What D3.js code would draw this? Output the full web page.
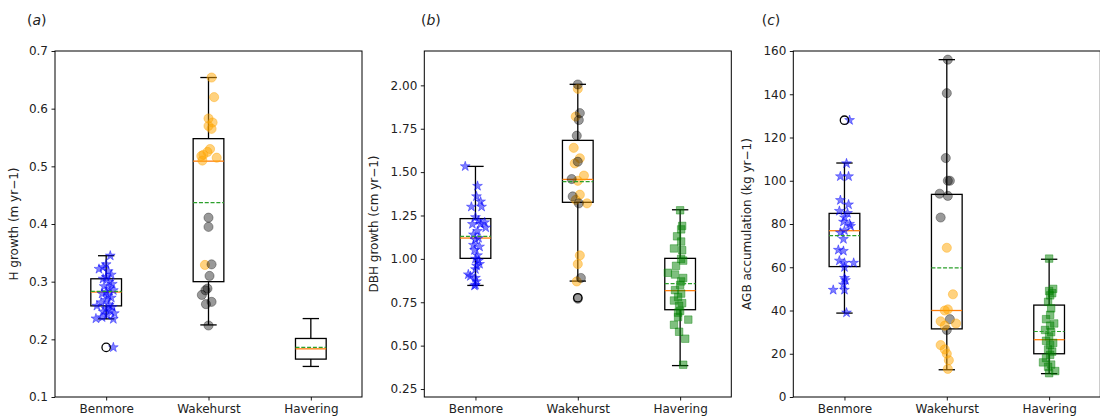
<!DOCTYPE html>
<html>
<head>
<meta charset="utf-8">
<script src="https://cdn.jsdelivr.net/npm/d3@7"></script>
<style>
body { margin: 0; background: #fff; }
svg text { font-family: "DejaVu Sans", sans-serif; fill: #222; }
</style>
</head>
<body>
<svg id="fig" width="1100" height="419"></svg>
<script>
const sites = ['Benmore', 'Wakehurst', 'Havering'];

// box stats per site: [whisker low, q1, median, q3, whisker high]
const boxA = [[0.2355, 0.258, 0.282, 0.305, 0.345], [0.225, 0.300, 0.509, 0.548, 0.654], [0.153, 0.1657, 0.1835, 0.2015, 0.236]];
const meanA = [0.283, 0.437, 0.186];
const flierA = [[0.186], [], []];

const boxB = [[0.847, 1.003, 1.12, 1.232, 1.533], [0.872, 1.326, 1.458, 1.683, 2.006], [0.385, 0.707, 0.817, 1.003, 1.283]];
const meanB = [1.13, 1.445, 0.857];
const flierB = [[], [0.776], []];

const boxC = [[38.8, 60.3, 76.9, 84.9, 108.2], [12.6, 31.5, 40, 93.7, 156], [10.8, 20, 26.5, 42.5, 63.7]];
const meanC = [74.6, 59.7, 30.3];
const flierC = [[128], [], []];

// individual trees: [value, jitter offset in category units]
const benmoreA = [[0.345,0.04],[0.33,0.0],[0.325,-0.03],[0.322,-0.07],[0.318,0.02],[0.312,0.05],[0.308,0.0],[0.305,-0.03],[0.30,0.03],[0.296,0.06],[0.292,-0.02],[0.288,0.03],[0.285,0.07],[0.282,0.0],[0.279,-0.04],[0.276,0.02],[0.272,0.05],[0.268,0.0],[0.264,-0.05],[0.26,0.03],[0.258,-0.09],[0.256,0.06],[0.253,0.0],[0.25,0.04],[0.248,-0.03],[0.245,0.08],[0.242,0.01],[0.238,-0.04],[0.236,-0.1],[0.235,0.07],[0.186,0.07]];
const wakeOrangeA = [[0.654,0.03],[0.62,0.055],[0.583,0.0],[0.576,0.04],[0.57,0.0],[0.565,0.03],[0.53,0.015],[0.525,-0.01],[0.52,-0.05],[0.518,-0.07],[0.515,0.08],[0.51,-0.06],[0.329,-0.035]];
const wakeGrayA = [[0.411,0.0],[0.395,0.0],[0.33,0.03],[0.31,0.01],[0.288,-0.01],[0.285,-0.03],[0.277,-0.065],[0.265,0.03],[0.261,-0.025],[0.224,0.0]];

const benmoreB = [[1.533,-0.10],[1.42,0.02],[1.36,0.01],[1.33,0.05],[1.30,-0.04],[1.30,0.06],[1.24,0.0],[1.22,0.03],[1.21,0.09],[1.20,-0.03],[1.20,0.05],[1.18,0.10],[1.16,0.02],[1.14,-0.02],[1.12,0.03],[1.11,0.0],[1.08,-0.02],[1.07,0.04],[1.05,-0.01],[1.02,0.02],[1.00,0.0],[0.99,0.03],[0.97,0.04],[0.96,0.01],[0.94,0.0],[0.91,-0.07],[0.90,-0.05],[0.89,0.0],[0.87,0.01],[0.85,0.0],[0.845,-0.01]];
const wakeOrangeB = [[1.98,0.0],[1.82,-0.02],[1.64,-0.04],[1.58,0.02],[1.55,-0.03],[1.48,0.06],[1.45,0.0],[1.37,0.02],[1.34,-0.02],[1.32,0.09],[1.02,0.02],[0.97,0.0],[0.87,-0.01]];
const wakeGrayB = [[2.005,0.0],[1.84,0.02],[1.80,0.01],[1.71,-0.01],[1.56,0.0],[1.46,-0.06],[1.36,-0.05],[1.32,0.01],[0.89,0.03],[0.77,0.0]];
const haveringB = [[1.28,0.0],[1.19,0.02],[1.17,0.01],[1.13,-0.03],[1.10,0.01],[1.06,-0.06],[1.05,0.02],[1.00,0.01],[0.99,0.03],[0.96,-0.04],[0.92,-0.12],[0.91,-0.05],[0.89,0.03],[0.87,0.01],[0.85,0.0],[0.82,-0.05],[0.80,0.01],[0.78,-0.02],[0.76,-0.06],[0.745,0.02],[0.73,-0.01],[0.70,0.0],[0.69,-0.02],[0.665,-0.02],[0.65,0.08],[0.62,-0.06],[0.58,-0.01],[0.54,0.05],[0.39,0.03]];

const benmoreC = [[128,0.05],[108,0.02],[102,-0.04],[102,0.04],[91,-0.04],[89,0.04],[86,-0.05],[85,0.03],[83,0.0],[81,-0.01],[80,0.05],[79,0.06],[77,0.0],[76,-0.04],[73,-0.01],[68,-0.06],[67.5,-0.01],[63,-0.05],[62,0.0],[62,0.09],[60,0.0],[55,0.0],[54,0.01],[52,-0.01],[49.5,-0.11],[49.5,0.0],[39,0.02]];
const wakeGrayC = [[156,0.01],[140.5,0.0],[110.5,-0.01],[100,0.01],[100,0.03],[94,-0.07],[93,0.01],[83,-0.06],[36,0.03],[31,0.0]];
const wakeOrangeC = [[69,0.0],[47.5,0.06],[40.5,0.01],[40,-0.02],[35,-0.06],[34,0.09],[33,-0.02],[24,-0.06],[22,-0.02],[20,0.0],[17,0.02],[13,0.01]];
const haveringC = [[64,0.0],[50,0.04],[49,0.0],[48,0.03],[47,0.01],[44,-0.01],[41,0.02],[38,0.01],[36,-0.03],[34,0.05],[33,0.01],[31,-0.04],[30,0.02],[28,0.0],[26,-0.03],[25,0.04],[24,0.01],[22,-0.01],[21,0.03],[19.5,0.01],[18,-0.03],[16,-0.06],[15,0.02],[14,-0.01],[12,0.06],[11,0.0]];

const yticksA = [0.1, 0.2, 0.3, 0.4, 0.5, 0.6, 0.7];
const yticksB = [0.25, 0.5, 0.75, 1.0, 1.25, 1.5, 1.75, 2.0];
const yticksC = [0, 20, 40, 60, 80, 100, 120, 140, 160];

const styles = {
    star:   {shape: 'star',   fill: 'rgba(0,0,255,0.5)'},
    orange: {shape: 'circle', fill: 'rgba(255,165,0,0.5)'},
    gray:   {shape: 'circle', fill: 'rgba(0,0,0,0.4)'},
    square: {shape: 'square', fill: 'rgba(0,128,0,0.5)'}
};

class BoxPanel {
    constructor (config) {
        this.config = config;
        this.init();
        this.render();
    }

    init() {
        let self = this;
        const c = self.config;
        self.svg = d3.select('#fig');
        self.chart = self.svg.append('g')
            .attr('transform', `translate(${c.left}, ${c.top})`);

        self.xscale = d3.scaleLinear().domain([0.5, 3.5]).range([0, c.width]);
        self.yscale = d3.scaleLinear().domain(c.ydomain).range([c.height, 0]);

        const xaxis = d3.axisBottom(self.xscale)
            .tickValues([1, 2, 3])
            .tickFormat(d => sites[d - 1])
            .tickSize(3.5).tickPadding(3.5);
        const yaxis = d3.axisLeft(self.yscale)
            .tickValues(c.yticks)
            .tickFormat(c.fmt)
            .tickSize(3.5).tickPadding(3.5);

        const xg = self.chart.append('g')
            .attr('transform', `translate(0, ${c.height})`)
            .call(xaxis);
        const yg = self.chart.append('g').call(yaxis);
        [xg, yg].forEach(g => {
            g.select('.domain').remove();
            g.selectAll('line').attr('stroke', '#000').attr('stroke-width', 0.9);
            g.selectAll('text').style('font-size', '12px').attr('fill', '#222');
        });

        self.svg.append('text')
            .attr('transform', `translate(${c.labelX}, ${c.top + c.height / 2}) rotate(-90)`)
            .attr('text-anchor', 'middle')
            .attr('dy', '0.35em')
            .style('font-size', '12px')
            .text(c.ylabel);

        const t = self.svg.append('text')
            .attr('x', c.titleX)
            .attr('y', 25)
            .style('font-size', '14px');
        t.append('tspan').text('(');
        t.append('tspan').style('font-style', 'italic').text(c.title);
        t.append('tspan').text(')');
    }

    render() {
        let self = this;
        const c = self.config;
        const x = self.xscale, y = self.yscale;
        const hw = 0.15, cw = 0.08;

        const boxes = c.box.map((b, i) => ({pos: i + 1, lo: b[0], q1: b[1], med: b[2], q3: b[3], hi: b[4], mean: c.mean[i], fliers: c.fliers[i]}));
        const bg = self.chart.selectAll('g.box').data(boxes).join('g').attr('class', 'box');

        // whiskers
        bg.append('line').attr('x1', d => x(d.pos)).attr('x2', d => x(d.pos))
            .attr('y1', d => y(d.q3)).attr('y2', d => y(d.hi));
        bg.append('line').attr('x1', d => x(d.pos)).attr('x2', d => x(d.pos))
            .attr('y1', d => y(d.q1)).attr('y2', d => y(d.lo));
        bg.append('line').attr('x1', d => x(d.pos - cw)).attr('x2', d => x(d.pos + cw))
            .attr('y1', d => y(d.hi)).attr('y2', d => y(d.hi));
        bg.append('line').attr('x1', d => x(d.pos - cw)).attr('x2', d => x(d.pos + cw))
            .attr('y1', d => y(d.lo)).attr('y2', d => y(d.lo));
        bg.selectAll('line').attr('stroke', '#000').attr('stroke-width', 1.3);

        bg.append('rect')
            .attr('x', d => x(d.pos - hw))
            .attr('y', d => y(d.q3))
            .attr('width', d => x(d.pos + hw) - x(d.pos - hw))
            .attr('height', d => y(d.q1) - y(d.q3))
            .attr('fill', 'none')
            .attr('stroke', '#000')
            .attr('stroke-width', 1.3);

        // points
        c.groups.forEach(gr => {
            const st = styles[gr.style];
            const sel = self.chart.append('g').selectAll('path')
                .data(gr.points).join('path')
                .attr('transform', d => `translate(${x(gr.pos + d[1])}, ${y(d[0])})`)
                .attr('fill', st.fill)
                .attr('stroke', st.fill)
                .attr('stroke-width', 0.8);
            if (st.shape === 'star') sel.attr('d', d3.symbol(d3.symbolStar, 30)());
            else if (st.shape === 'square') sel.attr('d', d3.symbol(d3.symbolSquare, 56)());
            else sel.attr('d', d3.symbol(d3.symbolCircle, 66)());
        });

        // median and mean
        bg.append('line').attr('x1', d => x(d.pos - hw)).attr('x2', d => x(d.pos + hw))
            .attr('y1', d => y(d.med)).attr('y2', d => y(d.med))
            .attr('stroke', '#ff7f0e').attr('stroke-width', 1.3);
        self.chart.selectAll('line.mean').data(boxes).join('line')
            .attr('class', 'mean')
            .attr('x1', d => x(d.pos - hw)).attr('x2', d => x(d.pos + hw))
            .attr('y1', d => y(d.mean)).attr('y2', d => y(d.mean))
            .attr('stroke', '#2ca02c').attr('stroke-width', 1.2)
            .attr('stroke-dasharray', '4,1.8');

        // fliers
        boxes.forEach(b => {
            self.chart.append('g').selectAll('circle').data(b.fliers).join('circle')
                .attr('cx', x(b.pos)).attr('cy', d => y(d)).attr('r', 4.2)
                .attr('fill', 'none').attr('stroke', '#000').attr('stroke-width', 1.3);
        });

        self.chart.append('rect')
            .attr('width', c.width).attr('height', c.height)
            .attr('fill', 'none').attr('stroke', '#000').attr('stroke-width', 1);
    }
}

new BoxPanel({
    left: 55, top: 51, width: 307, height: 346,
    ydomain: [0.1, 0.7], yticks: yticksA, fmt: d3.format('.1f'),
    ylabel: 'H growth (m yr\u22121)', labelX: 13.5, title: 'a', titleX: 27,
    box: boxA, mean: meanA, fliers: flierA,
    groups: [
        {pos: 1, style: 'star', points: benmoreA},
        {pos: 2, style: 'orange', points: wakeOrangeA},
        {pos: 2, style: 'gray', points: wakeGrayA}
    ]
});

new BoxPanel({
    left: 424.3, top: 51, width: 307, height: 346,
    ydomain: [0.204, 2.198], yticks: yticksB, fmt: d3.format('.2f'),
    ylabel: 'DBH growth (cm yr\u22121)', labelX: 374, title: 'b', titleX: 421,
    box: boxB, mean: meanB, fliers: flierB,
    groups: [
        {pos: 1, style: 'star', points: benmoreB},
        {pos: 2, style: 'orange', points: wakeOrangeB},
        {pos: 2, style: 'gray', points: wakeGrayB},
        {pos: 3, style: 'square', points: haveringB}
    ]
});

new BoxPanel({
    left: 793.3, top: 51, width: 307, height: 346,
    ydomain: [0, 160], yticks: yticksC, fmt: d3.format('d'),
    ylabel: 'AGB accumulation (kg yr\u22121)', labelX: 747, title: 'c', titleX: 761.7,
    box: boxC, mean: meanC, fliers: flierC,
    groups: [
        {pos: 1, style: 'star', points: benmoreC},
        {pos: 2, style: 'gray', points: wakeGrayC},
        {pos: 2, style: 'orange', points: wakeOrangeC},
        {pos: 3, style: 'square', points: haveringC}
    ]
});
</script>
</body>
</html>
